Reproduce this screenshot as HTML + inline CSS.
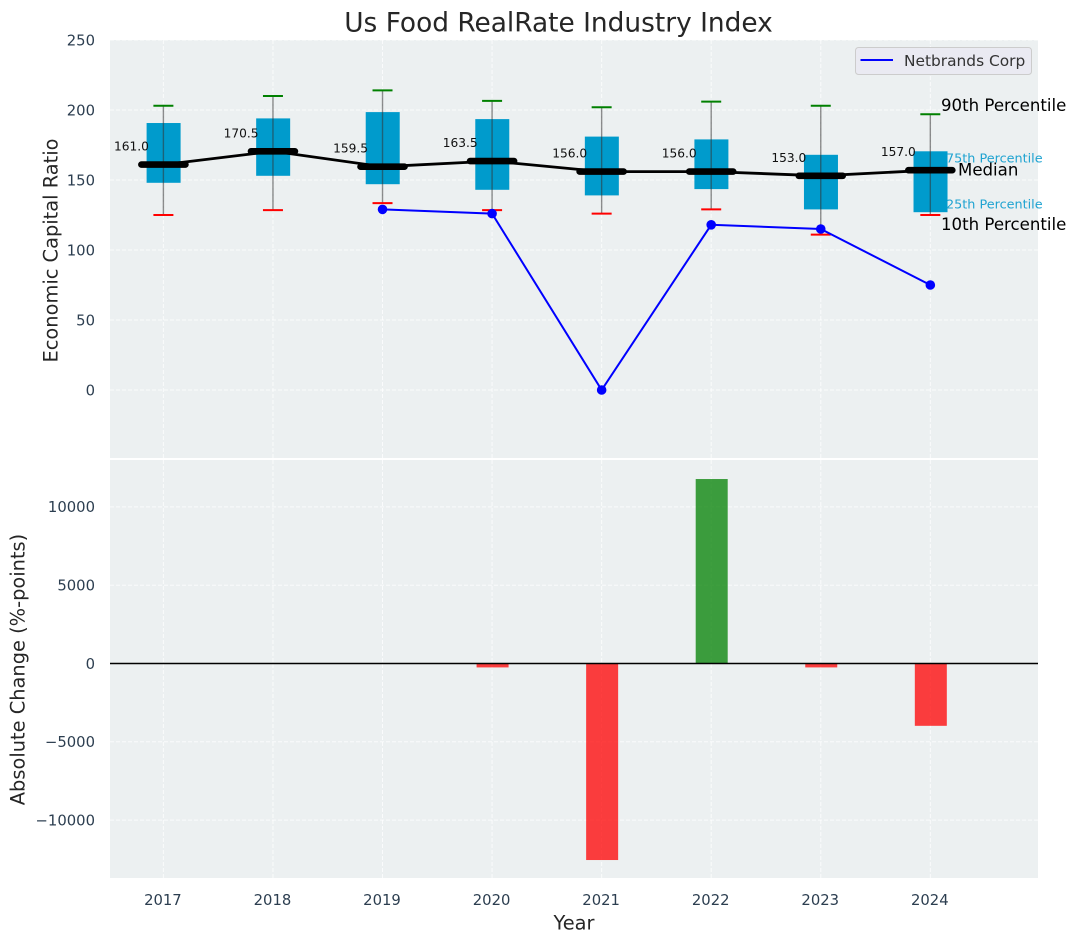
<!DOCTYPE html>
<html>
<head>
<meta charset="utf-8">
<style>
html,body{margin:0;padding:0;background:#fff;}
svg{display:block;font-family:"DejaVu Sans","Liberation Sans",sans-serif;}
</style>
</head>
<body>
<svg id="chart" width="1076" height="942" viewBox="0 0 1076 942" xmlns="http://www.w3.org/2000/svg"></svg>
<script>
const years = [2017, 2018, 2019, 2020, 2021, 2022, 2023, 2024];
const p90 = [203, 210, 214, 206.5, 202, 206, 203, 197];
const p75 = [190.7, 194, 198.5, 193.5, 181, 179, 168, 170.5];
const medians = [161, 170.5, 159.5, 163.5, 156, 156, 153, 157];
const p25 = [148, 153, 147, 143, 139, 143.5, 129, 127];
const p10 = [125, 128.5, 133.5, 128.5, 126, 129, 111, 125];
const netbrands = [null, null, 129, 126, 0, 118, 115, 75];
const changes = [null, null, null, -250, -12550, 11780, -250, -3980];
const topTicks = [250, 200, 150, 100, 50, 0];
const bottomTicks = [10000, 5000, 0, -5000, -10000];

const svg = document.getElementById('chart');
const NS = 'http://www.w3.org/2000/svg';
const L = 110, R = 1038, T1 = 40, B1 = 458, T2 = 460, B2 = 878;

function xS(y){ return 163.4 + (y - 2017) * 109.56; }
function yTop(v){ return 390 - v * 1.4; }
function yBot(v){ return 663.5 - v * 0.01566; }

function add(tag, attrs, parent, text){
  const el = document.createElementNS(NS, tag);
  for (const k in attrs) el.setAttribute(k, attrs[k]);
  if (text !== undefined) el.textContent = text;
  (parent || svg).appendChild(el);
  return el;
}
function fmt(v){ return v < 0 ? '\u2212' + Math.abs(v) : String(v); }
const TICK = '#2c3e50', INK = '#262626';
const TICK_SIZE = 14.8, AXIS_SIZE = 19.4, NOTE_BIG = 16.6, NOTE_SMALL = 12.8;

let el;
el = add('rect', {x:L, y:T1, width:R-L, height:B1-T1, fill:'#ecf0f1'});


el = add('rect', {x:L, y:T2, width:R-L, height:B2-T2, fill:'#ecf0f1'});



const gridStyle = {stroke:'#ffffff', 'stroke-width':1, 'stroke-dasharray':'4 2', 'stroke-opacity':0.75};

years.forEach(function(y){
  el = add('line', Object.assign({x1:xS(y), x2:xS(y), y1:T1, y2:B1}, gridStyle));
  
  
  el = add('line', Object.assign({x1:xS(y), x2:xS(y), y1:T2, y2:B2}, gridStyle));
  
  
  el = add('text', {x:xS(y)-0.5, y:905, 'text-anchor':'middle', 'font-size':TICK_SIZE, fill:TICK}, null, y);
  
  
});

topTicks.forEach(function(v){
  el = add('line', Object.assign({x1:L, x2:R, y1:yTop(v), y2:yTop(v)}, gridStyle));
  
  
  el = add('text', {x:95, y:yTop(v)+5.3, 'text-anchor':'end', 'font-size':TICK_SIZE, fill:TICK}, null, fmt(v));
  
  
});

bottomTicks.forEach(function(v){
  el = add('line', Object.assign({x1:L, x2:R, y1:yBot(v), y2:yBot(v)}, gridStyle));
  
  
  el = add('text', {x:95, y:yBot(v)+5.3, 'text-anchor':'end', 'font-size':TICK_SIZE, fill:TICK}, null, fmt(v));
  
  
});

/* boxes */
years.forEach(function(y, i){
  const x = xS(y);
  el = add('rect', {x:x-16.8, y:yTop(p75[i]), width:34, height:yTop(p25[i])-yTop(p75[i]), fill:'#009bcc'});
  
  
  el = add('line', {x1:x, x2:x, y1:yTop(p90[i]), y2:yTop(p10[i]), stroke:'#333', 'stroke-opacity':0.55, 'stroke-width':1.4});
  
  
  el = add('line', {x1:x-10, x2:x+10, y1:yTop(p90[i]), y2:yTop(p90[i]), stroke:'#008000', 'stroke-width':2});
  
  
  el = add('line', {x1:x-10, x2:x+10, y1:yTop(p10[i]), y2:yTop(p10[i]), stroke:'#ff0000', 'stroke-width':2});
  
  
});

/* median line */
el = add('polyline', {points:years.map(function(y,i){return xS(y)+','+yTop(medians[i]);}).join(' '), fill:'none', stroke:'#000', 'stroke-width':2.8});


years.forEach(function(y, i){
  const x = xS(y), m = yTop(medians[i]);
  el = add('line', {x1:x-22, x2:x+22, y1:m, y2:m, stroke:'#000', 'stroke-width':6.6, 'stroke-linecap':'round'});
  
  
  el = add('text', {x:x-14.5, y:m-14, 'text-anchor':'end', 'font-size':12.2, fill:'#111'}, null, medians[i].toFixed(1));
  
  
});

/* company line */
const blueIdx = years.map(function(y,i){return i;}).filter(function(i){return netbrands[i] !== null;});
el = add('polyline', {points:blueIdx.map(function(i){return xS(years[i])+','+yTop(netbrands[i]);}).join(' '), fill:'none', stroke:'#0000ff', 'stroke-width':2});


blueIdx.forEach(function(i){
  el = add('circle', {cx:xS(years[i]), cy:yTop(netbrands[i]), r:4.8, fill:'#0000ff'});
  
  
});

/* change bars */
years.forEach(function(y, i){
  const v = changes[i];
  if (v === null) return;
  const y0 = yBot(0), y1 = yBot(v);
  el = add('rect', {x:xS(y)-15.5, y:Math.min(y0,y1), width:32, height:Math.abs(y1-y0), fill:v>=0?'#008000':'#ff0000', 'fill-opacity':0.75});
  
  
});
el = add('line', {x1:L, x2:R, y1:yBot(0), y2:yBot(0), stroke:'#000', 'stroke-width':1.4});



/* percentile annotations */
el = add('text', {x:941, y:111, 'font-size':NOTE_BIG, fill:'#000'}, null, '90th Percentile');


el = add('text', {x:946, y:162.5, 'font-size':NOTE_SMALL, fill:'#1fa3d1'}, null, '75th Percentile');


el = add('text', {x:958, y:175.5, 'font-size':NOTE_BIG, fill:'#000'}, null, 'Median');


el = add('text', {x:946, y:208.5, 'font-size':NOTE_SMALL, fill:'#1fa3d1'}, null, '25th Percentile');


el = add('text', {x:941, y:230, 'font-size':NOTE_BIG, fill:'#000'}, null, '10th Percentile');



/* legend */
const legend = add('g', {});


el = add('rect', {x:855.5, y:47.5, width:176, height:27, rx:3, fill:'#eaeaf2', stroke:'#cccccc', 'stroke-width':1}, legend);


el = add('line', {x1:860.5, x2:893, y1:60, y2:60, stroke:'#0000ff', 'stroke-width':2}, legend);


el = add('text', {x:904, y:66, 'font-size':15.4, fill:'#333'}, legend, 'Netbrands Corp');



/* titles */
el = add('text', {x:558.5, y:31.5, 'text-anchor':'middle', 'font-size':26.4, fill:INK}, null, 'Us Food RealRate Industry Index');


el = add('text', {x:574, y:929.5, 'text-anchor':'middle', 'font-size':AXIS_SIZE, fill:INK}, null, 'Year');


el = add('text', {transform:'translate(57.5,250.5) rotate(-90)', 'text-anchor':'middle', 'font-size':AXIS_SIZE, fill:INK}, null, 'Economic Capital Ratio');


el = add('text', {transform:'translate(24.5,669.5) rotate(-90)', 'text-anchor':'middle', 'font-size':AXIS_SIZE, fill:INK}, null, 'Absolute Change (%-points)');


</script>
</body>
</html>
